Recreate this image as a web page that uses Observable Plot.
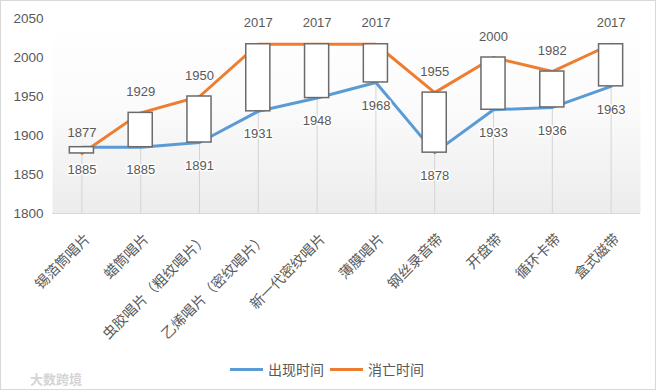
<!DOCTYPE html>
<html>
<head>
<meta charset="utf-8">
<script src="https://cdn.jsdelivr.net/npm/d3@7"></script>
<script src="https://cdn.jsdelivr.net/npm/@observablehq/plot@0.6"></script>
<style>
  html, body { margin: 0; padding: 0; background: #fff; }
  #wrap { position: relative; width: 659px; height: 392px; overflow: hidden; }
  #border { position: absolute; left: 0; top: 0; width: 656px; height: 390px; border: 1px solid #d9d9d9; box-sizing: border-box; pointer-events: none; }
  #chart { position: absolute; left: 0; top: 0; }
  .legend { position: absolute; top: 360px; left: 0; width: 659px; font-family: "Noto Sans CJK SC", sans-serif; font-size: 14px; color: #595959; }
  .item { position: absolute; top: 0; display: flex; align-items: center; height: 18px; }
  .sw { width: 33px; height: 3px; margin-right: 5px; }
  .wm { position: absolute; left: 30px; top: 369px; font-family: "Noto Sans CJK SC", sans-serif; font-size: 13px; color: #d4d4d4; font-weight: bold; }
</style>
</head>
<body>
<div id="wrap">
  <div id="chart"></div>
  <div class="legend">
    <div class="item" style="left:230px"><div class="sw" style="background:#5B9BD5"></div><span>出现时间</span></div>
    <div class="item" style="left:330px"><div class="sw" style="background:#ED7D31"></div><span>消亡时间</span></div>
  </div>
  <div class="wm">大数跨境</div>
  <div id="border"></div>
</div>
<script>
const categories = ["锡箔筒唱片", "蜡筒唱片", "虫胶唱片（粗纹唱片）", "乙烯唱片（密纹唱片）", "新一代密纹唱片", "薄膜唱片", "钢丝录音带", "开盘带", "循环卡带", "盒式磁带"];
const appearYears = [1885, 1885, 1891, 1931, 1948, 1968, 1878, 1933, 1936, 1963];
const vanishYears = [1877, 1929, 1950, 2017, 2017, 2017, 1955, 2000, 1982, 2017];
const yTicks = [1800, 1850, 1900, 1950, 2000, 2050];

const data = categories.map((c, i) => ({
  i, c, a: appearYears[i], v: vanishYears[i],
  lo: Math.min(appearYears[i], vanishYears[i]),
  hi: Math.max(appearYears[i], vanishYears[i])
}));

const numFont = "'Liberation Sans', Arial, sans-serif";

const plot = Plot.plot({
  width: 659,
  height: 345,
  marginLeft: 52,
  marginRight: 19,
  marginTop: 18,
  marginBottom: 132,
  style: { background: "transparent", color: "#595959", fontFamily: numFont, fontSize: "13px" },
  x: { domain: [-0.5, categories.length - 0.5], axis: null },
  y: { domain: [1800, 2050], axis: null },
  marks: [
    Plot.frame({ fill: "url(#plotbg)", stroke: "none" }),
    Plot.ruleY([1800], { stroke: "#d9d9d9", strokeWidth: 1.2 }),
    Plot.ruleX(data, { x: "i", y1: 1800, y2: "lo", stroke: "#d4d4d4", strokeWidth: 1 }),
    Plot.axisY({ ticks: yTicks, tickFormat: d => String(d), tickSize: 0, tickPadding: 9, fontSize: 13.5, fill: "#595959", fontFamily: numFont }),
    Plot.line(data, { x: "i", y: "a", stroke: "#5B9BD5", strokeWidth: 3 }),
    Plot.line(data, { x: "i", y: "v", stroke: "#ED7D31", strokeWidth: 3 }),
    Plot.rect(data, { x1: d => d.i - 0.205, x2: d => d.i + 0.205, y1: "lo", y2: "hi", fill: "white", stroke: "#6b6b6b", strokeWidth: 1.5 }),
    Plot.text(data, { x: "i", y: "v", text: d => String(d.v), dy: -21, fill: "#595959", fontSize: 13, fontFamily: numFont }),
    Plot.text(data, { x: "i", y: "a", text: d => String(d.a), dy: 23, fill: "#595959", fontSize: 13, fontFamily: numFont, stroke: "white", strokeWidth: 3 }),
    Plot.text(data, { x: "i", frameAnchor: "bottom", text: "c", rotate: -45, textAnchor: "end", lineAnchor: "middle", dx: 6, dy: 23, fill: "#595959", fontSize: 14.2, fontFamily: "'Noto Sans CJK SC', sans-serif" })
  ]
});

plot.insertAdjacentHTML("afterbegin",
  '<defs><linearGradient id="plotbg" x1="0" y1="0" x2="0" y2="1">' +
  '<stop offset="0" stop-color="#ffffff"/><stop offset="0.45" stop-color="#fbfbfb"/><stop offset="1" stop-color="#ececec"/>' +
  '</linearGradient></defs>');

document.getElementById("chart").appendChild(plot);
</script>
</body>
</html>
